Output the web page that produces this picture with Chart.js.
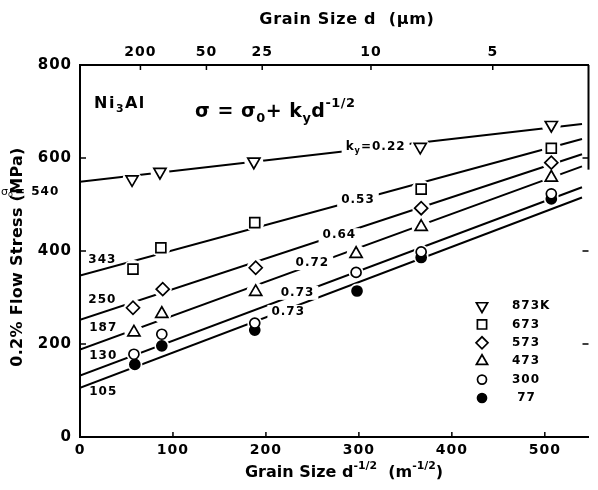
<!DOCTYPE html>
<html>
<head>
<meta charset="utf-8">
<script src="https://cdn.jsdelivr.net/npm/chart.js@4.4.0/dist/chart.umd.min.js"></script>
<style>
  html, body { margin: 0; padding: 0; background: #fff; }
</style>
</head>
<body>
<canvas id="myChart" width="598" height="490"></canvas>
<script>
const tempLabels = ["873K", "673", "573", "473", "300", " 77"];

const xs873 = [56, 86, 187, 366, 507];
const ys873 = [554, 570, 592, 624, 671];
const xs673 = [57, 87, 188, 367, 507];
const ys673 = [361, 407, 461, 533, 621];
const xs573 = [57, 89, 189, 367, 507];
const ys573 = [278, 318, 364, 492, 590];
const xs473 = [58, 88, 189, 297, 367, 507];
const ys473 = [225, 265, 312, 394, 452, 558];
const xs300 = [58, 88, 188, 297, 367, 507];
const ys300 = [178, 221, 245, 354, 398, 523];
const xs77 = [59, 88, 188, 298, 367, 507];
const ys77 = [156, 196, 230, 314, 386, 512];

// fitted Hall-Petch lines, end values
const fitX = [0, 540];
const fit873 = [549, 673];
const fit673 = [347, 641];
const fit573 = [252, 608];
const fit473 = [188, 582];
const fit300 = [132, 537];
const fit77 = [106, 515];

// axes
const xTicks = [0, 100, 200, 300, 400, 500];
const yTicks = [0, 200, 400, 600, 800];
const topTickPos = [65, 136, 196, 313, 444];
const topTickLabels = ["200", "50", "25", "10", "5"];

const FONT = "'DejaVu Sans', sans-serif";

function pairs(xs, ys) {
  return xs.map((x, i) => ({ x: x, y: ys[i] }));
}

const markerStyles = [
  { style: "triangle", rot: 180, r: 7, fill: "#fff" },
  { style: "rect", rot: 0, r: 7, fill: "#fff" },
  { style: "rectRot", rot: 0, r: 6.5, fill: "#fff" },
  { style: "triangle", rot: 0, r: 7, fill: "#fff" },
  { style: "circle", rot: 0, r: 5, fill: "#fff" },
  { style: "circle", rot: 0, r: 5, fill: "#000" },
];

const seriesX = [xs873, xs673, xs573, xs473, xs300, xs77];
const seriesY = [ys873, ys673, ys573, ys473, ys300, ys77];
const fits = [fit873, fit673, fit573, fit473, fit300, fit77];

// datasets drawn first in the list end up on top
let datasets = [];
seriesX.forEach((xs, i) => {
  let m = markerStyles[i];
  datasets.push({
    label: tempLabels[i],
    data: pairs(xs, seriesY[i]),
    showLine: false,
    pointStyle: m.style,
    rotation: m.rot,
    pointRadius: m.r,
    pointBackgroundColor: m.fill,
    pointBorderColor: "#000",
    pointBorderWidth: 1.7,
  });
});
// white halo so the fitted lines break around each symbol
seriesX.forEach((xs, i) => {
  datasets.push({
    label: "gap " + tempLabels[i],
    data: pairs(xs, seriesY[i]),
    showLine: false,
    pointStyle: "circle",
    pointRadius: markerStyles[i].r + 2.5,
    pointBackgroundColor: "#fff",
    pointBorderWidth: 0,
  });
});
fits.forEach((f, i) => {
  datasets.push({
    label: "fit " + tempLabels[i],
    data: pairs(fitX, f),
    showLine: true,
    borderColor: "#000",
    borderWidth: 2,
    pointRadius: 0,
  });
});

// slope labels (sit on the lines) and intercept labels, in data units
const slopeNotes = [
  { parts: [["k", 0], ["y", 1], ["=0.22", 0]], x: 318, y: 624 },
  { parts: [["0.53", 0]], x: 299, y: 510 },
  { parts: [["0.64", 0]], x: 279, y: 434 },
  { parts: [["0.72", 0]], x: 250, y: 374 },
  { parts: [["0.73", 0]], x: 234, y: 310 },
  { parts: [["0.73", 0]], x: 224, y: 269 },
];
const interceptNotes = [
  { text: "343", x: 24, y: 381 },
  { text: "250", x: 24, y: 295 },
  { text: "187", x: 25, y: 234 },
  { text: "130", x: 25, y: 174 },
  { text: "105", x: 25, y: 97 },
];

// draw text made of parts: [text, mode] mode 0 normal, 1 subscript, 2 superscript
function richWidth(ctx, parts, size) {
  let w = 0;
  parts.forEach(p => {
    ctx.font = "bold " + (p[1] ? size * 0.68 : size) + "px " + FONT;
    w += ctx.measureText(p[0]).width;
  });
  return w;
}
function drawRich(ctx, parts, x, y, size, align) {
  let w = richWidth(ctx, parts, size);
  let cx = align === "center" ? x - w / 2 : x;
  ctx.textAlign = "left";
  ctx.textBaseline = "middle";
  parts.forEach(p => {
    let s = p[1] ? size * 0.68 : size;
    ctx.font = "bold " + s + "px " + FONT;
    let dy = p[1] === 1 ? size * 0.35 : p[1] === 2 ? -size * 0.42 : 0;
    ctx.fillText(p[0], cx, y + dy);
    cx += ctx.measureText(p[0]).width;
  });
  return w;
}

const decor = {
  id: "decor",
  beforeDraw(chart) {
    chart.ctx.letterSpacing = "1px";
  },
  afterDraw(chart) {
    const ctx = chart.ctx;
    const xs = chart.scales.x, ys = chart.scales.y, a = chart.chartArea;
    ctx.save();
    ctx.strokeStyle = "#000";
    ctx.fillStyle = "#000";
    ctx.lineWidth = 1.5;

    // inward tick marks
    ctx.beginPath();
    xTicks.slice(1).forEach(v => {
      let px = xs.getPixelForValue(v);
      ctx.moveTo(px, a.bottom); ctx.lineTo(px, a.bottom - 5);
    });
    topTickPos.forEach(v => {
      let px = xs.getPixelForValue(v);
      ctx.moveTo(px, a.top); ctx.lineTo(px, a.top + 5);
    });
    yTicks.slice(1, -1).forEach(v => {
      let py = ys.getPixelForValue(v);
      ctx.moveTo(a.left, py); ctx.lineTo(a.left + 6, py);
      ctx.moveTo(a.right, py); ctx.lineTo(a.right - 6, py);
    });
    ctx.stroke();

    // right frame (only the upper part shows in the scan)
    ctx.lineWidth = 2;
    ctx.beginPath();
    ctx.moveTo(a.right, a.top);
    ctx.lineTo(a.right, ys.getPixelForValue(575));
    ctx.stroke();

    // slope labels with white gap in the line
    ctx.letterSpacing = "1px";
    slopeNotes.forEach(n => {
      let px = xs.getPixelForValue(n.x), py = ys.getPixelForValue(n.y);
      let w = richWidth(ctx, n.parts, 12);
      ctx.fillStyle = "#fff";
      ctx.fillRect(px - w / 2 - 4, py - 7, w + 8, 14);
      ctx.fillStyle = "#000";
      drawRich(ctx, n.parts, px, py, 12, "center");
    });
    interceptNotes.forEach(n => {
      drawRich(ctx, [[n.text, 0]], xs.getPixelForValue(n.x), ys.getPixelForValue(n.y), 12, "center");
    });

    // sigma_0 = 540 to the left of the axis
    let sx = 1, sy = ys.getPixelForValue(527);
    ctx.font = "11px " + FONT;
    ctx.textAlign = "left";
    ctx.textBaseline = "middle";
    ctx.letterSpacing = "0px";
    ctx.fillText("σ", sx, sy);
    ctx.font = "8px " + FONT;
    ctx.fillText("o", sx + 7, sy + 3);
    ctx.letterSpacing = "1px";
    drawRich(ctx, [["= 540", 0]], sx + 14, sy, 12, "left");

    // material and equation
    ctx.letterSpacing = "1.5px";
    drawRich(ctx, [["Ni", 0], ["3", 1], ["Al", 0]], 94, 104, 16, "left");
    ctx.letterSpacing = "0.5px";
    drawRich(ctx, [["σ = σ", 0], ["0", 1], ["+ k", 0], ["y", 1], ["d", 0], ["-1/2", 2]], 195, 112, 19, "left");

    // axis titles
    ctx.letterSpacing = "0.7px";
    drawRich(ctx, [["Grain Size d  (µm)", 0]], 347, 20, 16, "center");
    ctx.letterSpacing = "0px";
    drawRich(ctx, [["Grain Size d", 0], ["-1/2", 2], ["  (m", 0], ["-1/2", 2], [")", 0]], 344, 473, 16, "center");
    ctx.save();
    ctx.translate(18, 257);
    ctx.rotate(-Math.PI / 2);
    ctx.letterSpacing = "0.3px";
    drawRich(ctx, [["0.2% Flow Stress (MPa)", 0]], 0, 0, 16, "center");
    ctx.restore();

    // legend
    const lx = 482, tx = 512, ly0 = 306, dy = 18.4;
    tempLabels.forEach((t, i) => {
      let m = markerStyles[i];
      let y = ly0 + i * dy;
      ctx.fillStyle = m.fill;
      ctx.strokeStyle = "#000";
      ctx.lineWidth = 1.7;
      Chart.helpers.drawPoint(ctx, { pointStyle: m.style, rotation: m.rot, radius: m.r - 0.5, borderWidth: 1.7 }, lx, y);
      ctx.fillStyle = "#000";
      ctx.letterSpacing = "1px";
      drawRich(ctx, [[t, 0]], tx, y, 12, "left");
    });
    ctx.restore();
  },
};

Chart.defaults.font.family = FONT;
Chart.defaults.color = "#000";

new Chart(document.getElementById("myChart"), {
  type: "scatter",
  data: { datasets: datasets },
  options: {
    responsive: false,
    animation: false,
    devicePixelRatio: 1,
    layout: { padding: { left: 0, right: 1, top: 0, bottom: 0 } },
    plugins: { legend: { display: false }, tooltip: { enabled: false } },
    scales: {
      x: {
        type: "linear",
        position: "bottom",
        min: 0,
        max: 547,
        afterBuildTicks: s => { s.ticks = xTicks.map(v => ({ value: v })); },
        afterFit: s => { s.height = 53; },
        grid: { display: false, drawTicks: false },
        border: { display: true, color: "#000", width: 2 },
        ticks: { font: { size: 14, weight: "bold" }, padding: 5, maxRotation: 0, autoSkip: false },
      },
      x2: {
        type: "linear",
        position: "top",
        min: 0,
        max: 547,
        afterBuildTicks: s => { s.ticks = topTickPos.map(v => ({ value: v })); },
        afterFit: s => { s.height = 65; },
        grid: { display: false, drawTicks: false },
        border: { display: true, color: "#000", width: 2 },
        ticks: {
          font: { size: 14, weight: "bold" },
          padding: 4,
          maxRotation: 0,
          autoSkip: false,
          callback: (v, i) => topTickLabels[i],
        },
      },
      y: {
        type: "linear",
        min: 0,
        max: 800,
        afterBuildTicks: s => { s.ticks = yTicks.map(v => ({ value: v })); },
        afterFit: s => { s.width = 80; },
        grid: { display: false, drawTicks: false },
        border: { display: true, color: "#000", width: 2 },
        ticks: { font: { size: 15, weight: "bold" }, padding: 8 },
      },
    },
  },
  plugins: [decor],
});
</script>
</body>
</html>
